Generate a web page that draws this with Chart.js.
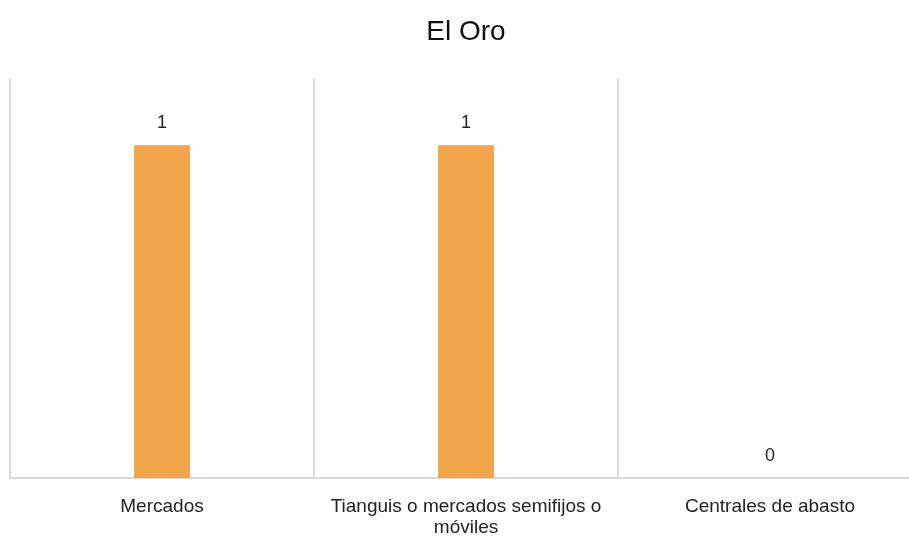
<!DOCTYPE html>
<html>
<head>
<meta charset="utf-8">
<script src="https://cdn.jsdelivr.net/npm/chart.js@4"></script>
<style>
  html, body { margin: 0; padding: 0; background: #fff; overflow: hidden; }
  #wrap { width: 909px; height: 543px; overflow: hidden; }
  #box { width: 932px; height: 543px; }
</style>
</head>
<body>
<div id="wrap"><div id="box"><canvas id="chart"></canvas></div></div>
<script>
const title = "El Oro";
const categories = ["Mercados", ["Tianguis o mercados semifijos o", "móviles"], "Centrales de abasto"];
const values = [1, 1, 0];

// valores encima de cada barra
const valueLabels = {
  id: "valueLabels",
  afterDatasetsDraw(chart) {
    const ctx = chart.ctx;
    const meta = chart.getDatasetMeta(0);
    ctx.save();
    ctx.font = "18px 'Liberation Sans', Arial, sans-serif";
    ctx.fillStyle = "#222";
    ctx.textAlign = "center";
    ctx.textBaseline = "bottom";
    meta.data.forEach((bar, i) => {
      ctx.fillText(String(values[i]), bar.x, bar.y - 13);
    });
    ctx.restore();
  }
};

new Chart(document.getElementById("chart"), {
  type: "bar",
  data: {
    labels: categories,
    datasets: [{
      data: values,
      backgroundColor: "#f2a54a",
      categoryPercentage: 1,
      barPercentage: 0.184
    }]
  },
  options: {
    responsive: true,
    maintainAspectRatio: false,
    animation: false,
    layout: { padding: { left: 10, right: 10, top: 0, bottom: 0 } },
    plugins: {
      legend: { display: false },
      tooltip: { enabled: false },
      title: {
        display: true,
        text: title,
        color: "#111",
        font: { family: "'Liberation Sans', Arial, sans-serif", size: 28, weight: "normal" },
        padding: { top: 15, bottom: 30 }
      }
    },
    scales: {
      x: {
        afterFit(scale) { scale.height = 65; },
        grid: { color: "#d9d9d9", lineWidth: 2, drawTicks: false, offset: true },
        border: { color: "#d9d9d9", width: 2 },
        ticks: {
          color: "#222",
          padding: 18,
          maxRotation: 0,
          font: { family: "'Liberation Sans', Arial, sans-serif", size: 19, lineHeight: 1.1 }
        }
      },
      y: {
        display: false,
        min: 0,
        max: 1.2
      }
    }
  },
  plugins: [valueLabels]
});
</script>
</body>
</html>
